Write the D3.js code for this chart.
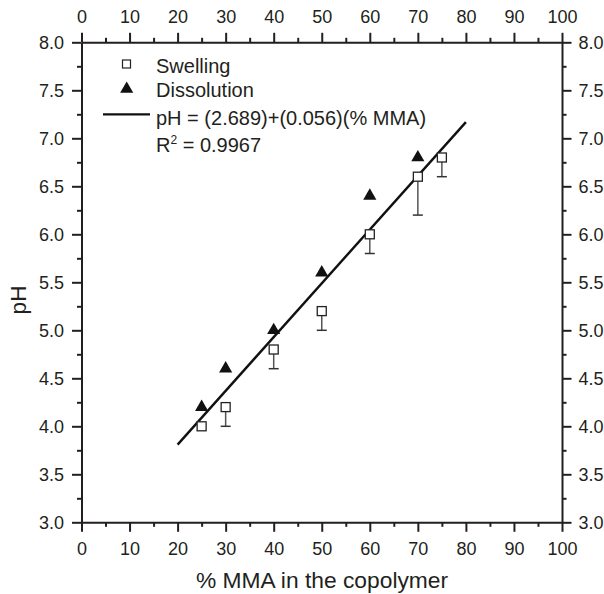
<!DOCTYPE html>
<html><head><meta charset="utf-8">
<script src="https://cdn.jsdelivr.net/npm/d3@7"></script>
<style>body{margin:0;background:#fff}svg{display:block}text{font-family:"Liberation Sans",Arial,sans-serif;fill:#231f20}</style>
</head><body><div id="chart"></div>
<script>
const swellX = [25, 30, 40, 50, 60, 70, 75];
const swellY = [4.0, 4.2, 4.8, 5.2, 6.0, 6.6, 6.8];
const swellErr = [0, 0.2, 0.2, 0.2, 0.2, 0.4, 0.2];
const dissX = [25, 30, 40, 50, 60, 70];
const dissY = [4.2, 4.6, 5.0, 5.6, 6.4, 6.8];
const fitIntercept = 2.689, fitSlope = 0.056, fitRange = [20, 80];
const xTicks = [0,10,20,30,40,50,60,70,80,90,100];
const yTicks = [3.0,3.5,4.0,4.5,5.0,5.5,6.0,6.5,7.0,7.5,8.0];
const legendLabels = ["Swelling", "Dissolution", "pH = (2.689)+(0.056)(% MMA)"];

const W = 604, H = 594;
const m = {l: 81.5, r: 604-562, t: 42.3, b: 594-522.3};
const svg = d3.select("#chart").append("svg").attr("width", W).attr("height", H);
const x = d3.scaleLinear().domain([0,100]).range([m.l, W-m.r]);
const y = d3.scaleLinear().domain([3,8]).range([H-m.b, m.t]);
const col = "#231f20";
const fs = 18;

function styleAxis(g){
  g.select(".domain").attr("stroke", col).attr("stroke-width", 2);
  g.selectAll(".tick line").attr("stroke", col).attr("stroke-width", 2);
  g.selectAll(".tick text").attr("font-size", fs).attr("fill", col).style("font-family","Liberation Sans, Arial, sans-serif");
}
const xMinor = d3.range(5, 100, 10);
const yMinor = d3.range(3.25, 8, 0.5);

function minorAxis(axisFn, scale, vals, tr){
  const g = svg.append("g").attr("transform", tr).call(axisFn(scale).tickValues(vals).tickSize(4.5).tickFormat(""));
  g.select(".domain").remove();
  g.selectAll(".tick line").attr("stroke", col).attr("stroke-width", 2);
}
minorAxis(d3.axisBottom, x, xMinor, `translate(0,${H-m.b})`);
minorAxis(d3.axisTop, x, xMinor, `translate(0,${m.t})`);
minorAxis(d3.axisLeft, y, yMinor, `translate(${m.l},0)`);
minorAxis(d3.axisRight, y, yMinor, `translate(${W-m.r},0)`);

const gb = svg.append("g").attr("transform", `translate(0,${H-m.b})`)
  .call(d3.axisBottom(x).tickValues(xTicks).tickSize(9.5).tickSizeOuter(0).tickPadding(10).tickFormat(d3.format("d")));
styleAxis(gb);
const gt = svg.append("g").attr("transform", `translate(0,${m.t})`)
  .call(d3.axisTop(x).tickValues(xTicks).tickSize(9.5).tickSizeOuter(0).tickPadding(9.5).tickFormat(d3.format("d")));
styleAxis(gt);
const gl = svg.append("g").attr("transform", `translate(${m.l},0)`)
  .call(d3.axisLeft(y).tickValues(yTicks).tickSize(9.5).tickSizeOuter(0).tickPadding(8).tickFormat(d3.format(".1f")));
styleAxis(gl);
const gr = svg.append("g").attr("transform", `translate(${W-m.r},0)`)
  .call(d3.axisRight(y).tickValues(yTicks).tickSize(9.5).tickSizeOuter(0).tickPadding(7).tickFormat(d3.format(".1f")));
styleAxis(gr);

// axis titles
svg.append("text").attr("x", 196).attr("y", 588).attr("font-size", 22.8).text("% MMA in the copolymer");
svg.append("text").attr("transform", `translate(26,300) rotate(-90)`).attr("text-anchor","middle").attr("font-size", 22.5).text("pH");

// fit line
svg.append("line").attr("x1", x(fitRange[0])).attr("y1", y(fitIntercept + fitSlope*fitRange[0]))
  .attr("x2", x(fitRange[1])).attr("y2", y(fitIntercept + fitSlope*fitRange[1]))
  .attr("stroke", "#111").attr("stroke-width", 2.4);

// error bars (lower only)
const sw = swellX.map((d,i)=>({x:d, y:swellY[i], e:swellErr[i]}));
const eg = svg.append("g");
sw.filter(d=>d.e>0).forEach(d=>{
  eg.append("line").attr("x1", x(d.x)).attr("x2", x(d.x)).attr("y1", y(d.y)).attr("y2", y(d.y-d.e)).attr("stroke","#555").attr("stroke-width",1.5);
  eg.append("line").attr("x1", x(d.x)-5).attr("x2", x(d.x)+5).attr("y1", y(d.y-d.e)).attr("y2", y(d.y-d.e)).attr("stroke","#333").attr("stroke-width",1.5);
});
// squares
svg.append("g").selectAll("rect").data(sw).join("rect")
  .attr("x", d=>x(d.x)-4.5).attr("y", d=>y(d.y)-4.5).attr("width", 9).attr("height", 9)
  .attr("fill","#fff").attr("stroke","#222").attr("stroke-width",1.3);
// triangles
const tri = d3.symbol().type(d3.symbolTriangle).size(75);
svg.append("g").selectAll("path").data(dissX.map((d,i)=>({x:d,y:dissY[i]}))).join("path")
  .attr("d", tri).attr("transform", d=>`translate(${x(d.x)},${y(d.y)})`).attr("fill","#111");

// legend
const lg = svg.append("g");
lg.append("rect").attr("x", 122.5).attr("y", 60).attr("width", 8).attr("height", 8).attr("fill","#fff").attr("stroke","#222").attr("stroke-width",1.2);
lg.append("path").attr("d", tri).attr("transform","translate(126.7,89)").attr("fill","#111");
lg.append("line").attr("x1",103).attr("x2",150).attr("y1",114.3).attr("y2",114.3).attr("stroke","#111").attr("stroke-width",2.2);
const lx = 156;
const lfs = 20;
lg.append("text").attr("x", lx).attr("y", 72.7).attr("font-size", lfs).text(legendLabels[0]);
lg.append("text").attr("x", lx).attr("y", 97).attr("font-size", lfs).text(legendLabels[1]);
lg.append("text").attr("x", lx).attr("y", 125).attr("font-size", lfs).text(legendLabels[2]);
const r2 = lg.append("text").attr("x", lx).attr("y", 151.7).attr("font-size", lfs);
r2.append("tspan").text("R");
r2.append("tspan").attr("dy", -8).attr("font-size", 12).text("2");
r2.append("tspan").attr("dy", 8).text(" = 0.9967");
</script></body></html>
